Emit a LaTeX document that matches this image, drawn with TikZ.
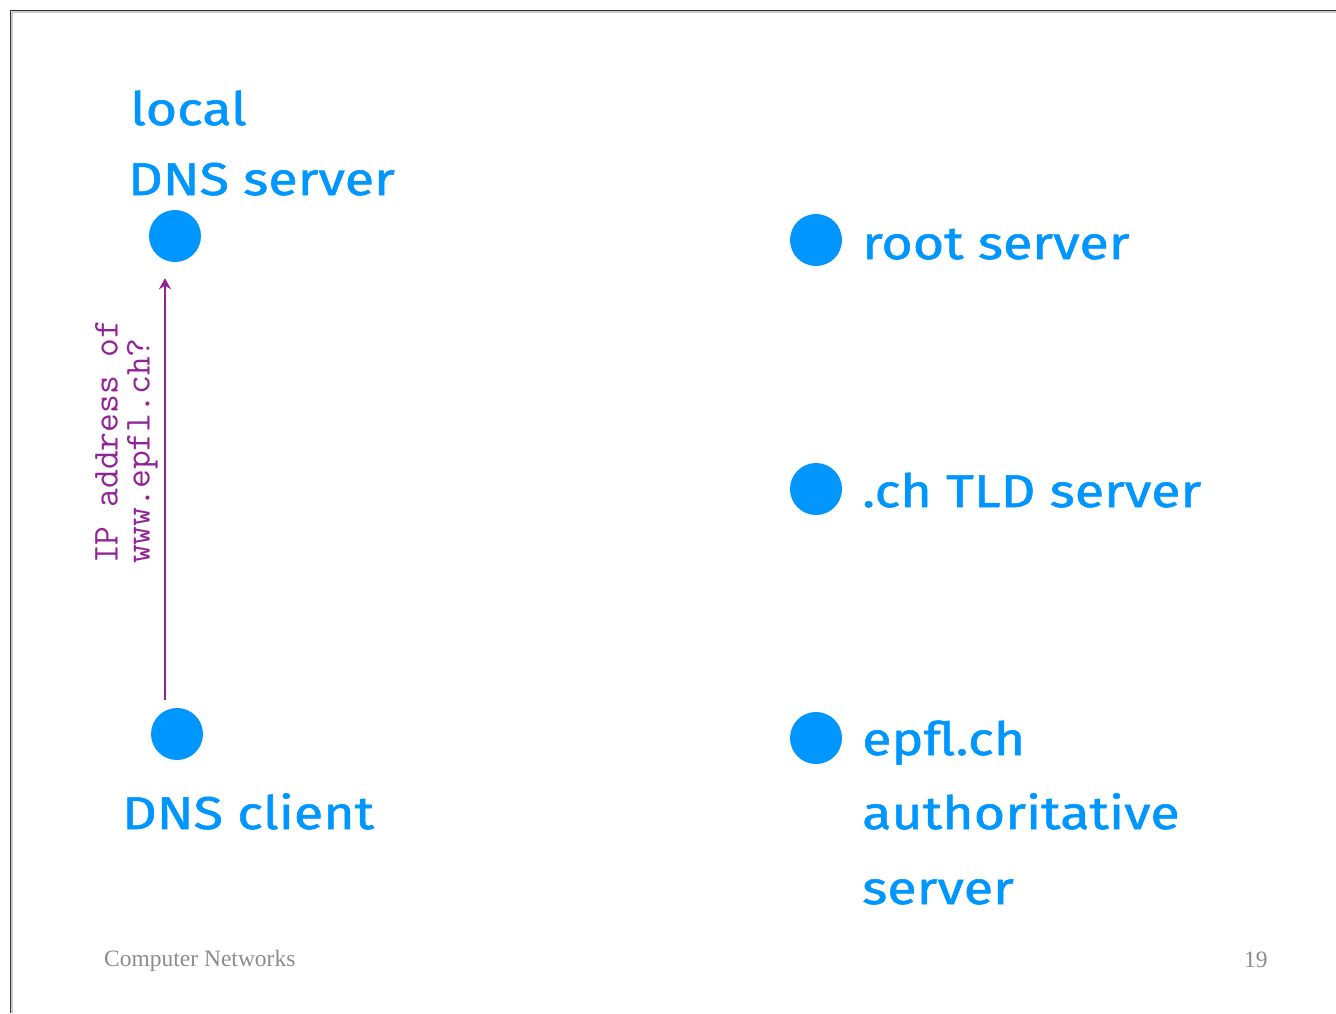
\documentclass[tikz,border=0pt]{standalone}
\usepackage{fontspec}
\setmainfont{Fira Sans}
\newfontfamily\lblfont{Fira Sans}[FakeStretch=1.17, FakeBold=1.2]
\newfontfamily\footfont{Liberation Serif}
\usetikzlibrary{arrows.meta,calc}
\definecolor{dnsblue}{RGB}{0,150,255}
\definecolor{qpurple}{RGB}{145,35,150}
\definecolor{footgray}{RGB}{140,140,140}
\tikzset{
  dot/.style={circle, fill=dnsblue, draw=none, minimum size=52pt, inner sep=0pt},
  lbl/.style={anchor=base west, inner sep=0pt, text=dnsblue, font=\lblfont\fontsize{46}{46}\selectfont},
  foot/.style={anchor=base west, inner sep=0pt, text=footgray, font=\footfont\fontsize{23.5}{24}\selectfont},
  query/.style={-{Stealth[length=11pt,width=12pt]}, draw=qpurple, line width=2.2pt},
}
\begin{document}
\begin{tikzpicture}[x=1pt,y=-1pt]
\useasboundingbox (0,0) rectangle (1336,1013);
% frame
\draw[gray!40, line width=2pt] (12,12) -- (1336,12);
\draw[gray!40, line width=2pt] (12,12) -- (12,1013);
\draw[black!80, line width=1.3pt] (10.5,1013) -- (10.5,10.5) -- (1336,10.5);
% nodes
\node[dot] (local) at (175,236) {};
\node[dot] (client) at (177,734) {};
\node[dot] (root) at (816,240) {};
\node[dot] (tld) at (816,489) {};
\node[dot] (auth) at (816,738) {};
% labels
\node[lbl] (l1) at (130,125) {local};
\node[lbl] (l2) at (128,195) {DNS server};
\node[lbl] (c1) at (122,829) {DNS client};
\node[lbl] (r1) at (862,259) {root server};
\node[lbl] (t1) at (862,507) {.ch TLD server};
\node[lbl] (a1) at (862,755) {epfl.ch};
\node[lbl] (a2) at (862,829) {authoritative};
\node[lbl] (a3) at (862,904) {server};
% query arrow
\coordinate (qs) at ($(client.north)+(-12,-8)$);
\coordinate (qe) at ($(local.south)+(-10,16)$);
\draw[query] (qs) -- (qe);
\node[rotate=90, anchor=south west, inner sep=0pt, text=qpurple, align=left,
      font=\ttfamily\fontsize{36.5}{32}\selectfont] (qlbl) at (158,564)
  {IP address of\\www.epfl.ch?};
% footer
\node[foot] (ft) at (104,966) {Computer Networks};
\node[foot] (pg) at (1244,967) {19};
\end{tikzpicture}
\end{document}
